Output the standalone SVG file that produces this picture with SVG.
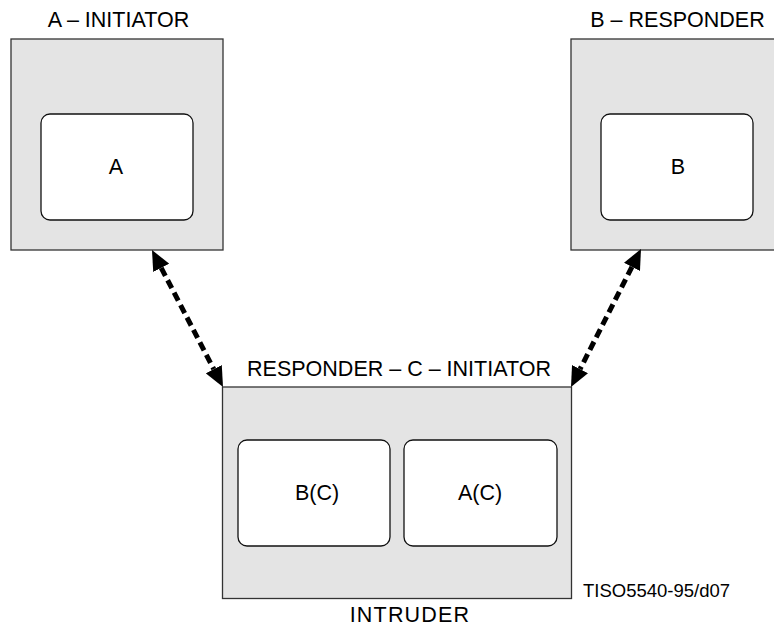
<svg xmlns="http://www.w3.org/2000/svg" width="774" height="630" viewBox="0 0 774 630">
  <style>
    .frame { fill: #e4e4e4; stroke: #333333; stroke-width: 1.3; }
    .inner { fill: #ffffff; stroke: #111111; stroke-width: 1.3; }
    .lbl { font-family: "Liberation Sans", Arial, sans-serif; font-size: 21.5px; fill: #000000; text-anchor: middle; }
    .ref { font-family: "Liberation Sans", Arial, sans-serif; font-size: 18.5px; fill: #000000; }
    .link { fill: none; stroke: #000000; stroke-width: 5; stroke-dasharray: 9 5; }
  </style>
  <defs>
    <marker id="head" viewBox="0 0 20 18" refX="0" refY="9" markerWidth="20" markerHeight="18" markerUnits="userSpaceOnUse" orient="auto-start-reverse">
      <path d="M0,0 L20,9 L0,18 z" fill="#000000"/>
    </marker>
  </defs>

  <rect width="774" height="630" fill="#ffffff"/>

  <!-- Entity A: initiator -->
  <g id="node-a">
    <text class="lbl" x="118.5" y="27">A – INITIATOR</text>
    <rect class="frame" x="11" y="39" width="212" height="211"/>
    <rect class="inner" x="41" y="114" width="152" height="106" rx="9"/>
    <text class="lbl" x="116" y="174">A</text>
  </g>

  <!-- Entity B: responder -->
  <g id="node-b">
    <text class="lbl" x="677.5" y="27">B – RESPONDER</text>
    <rect class="frame" x="571" y="39" width="210" height="211"/>
    <rect class="inner" x="601" y="114" width="152" height="106" rx="9"/>
    <text class="lbl" x="678" y="174">B</text>
  </g>

  <!-- Entity C: intruder acting both ways -->
  <g id="node-c">
    <text class="lbl" x="399" y="376">RESPONDER – C – INITIATOR</text>
    <rect class="frame" x="222.5" y="387" width="349" height="211.5"/>
    <rect class="inner" x="238" y="440" width="152" height="106" rx="9"/>
    <text class="lbl" x="317" y="500">B(C)</text>
    <rect class="inner" x="404" y="440" width="153" height="106" rx="9"/>
    <text class="lbl" x="480" y="500">A(C)</text>
    <text class="lbl" x="410" y="622" letter-spacing="1.2">INTRUDER</text>
  </g>

  <text class="ref" x="583" y="597">TISO5540-95/d07</text>

  <!-- Two-way exchanges through the intruder -->
  <g id="connectors">
    <line class="link" x1="161.2" y1="267.8" x2="213.8" y2="369.2" marker-start="url(#head)" marker-end="url(#head)"/>
    <line class="link" x1="631.95" y1="266.84" x2="580.05" y2="369.16" marker-start="url(#head)" marker-end="url(#head)"/>
  </g>
</svg>
